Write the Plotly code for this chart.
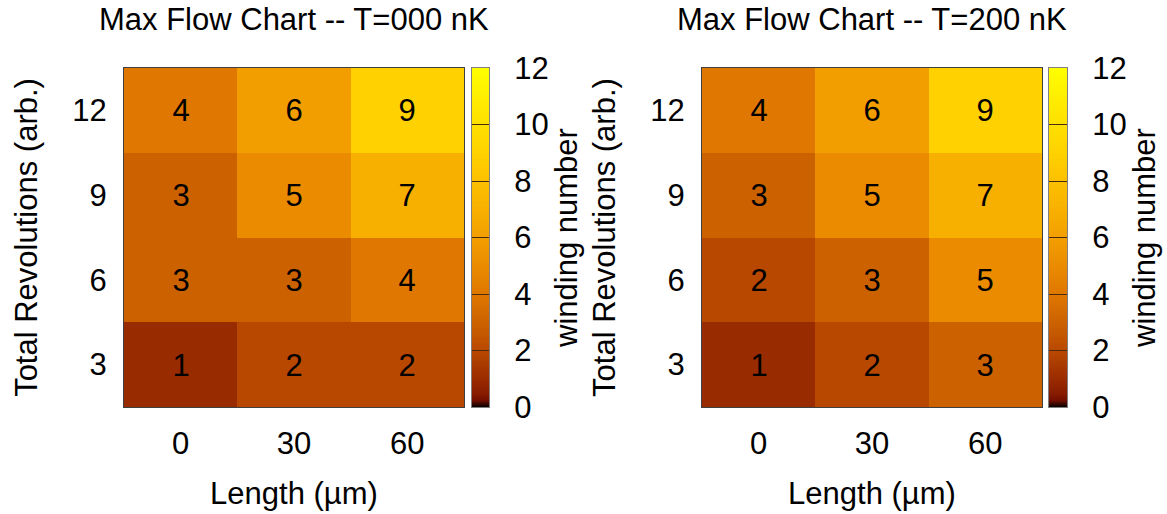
import plotly.graph_objects as go

# ---- data -------------------------------------------------------------
lengths = [0, 30, 60]                  # Length (um), columns
revolutions = [3, 6, 9, 12]            # Total Revolutions (arb.), rows
winding_T000 = [[1, 2, 2],
                [3, 3, 4],
                [3, 5, 7],
                [4, 6, 9]]
winding_T200 = [[1, 2, 3],
                [2, 3, 5],
                [3, 5, 7],
                [4, 6, 9]]
cbar_ticks = [0, 2, 4, 6, 8, 10, 12]
titles = ["Max Flow Chart -- T=000 nK", "Max Flow Chart -- T=200 nK"]

# ---- style ------------------------------------------------------------
FONT = "Liberation Sans"
FS = 31
ZMIN, ZMAX = 0, 12
# black -> dark red -> orange -> yellow palette
palette = [
    (0.0, "#000000"), (0.25, "#730f00"), (0.5, "#881c00"), (1, "#992b00"),
    (2, "#b84800"), (3, "#cc6100"), (4, "#df7700"), (5, "#ea8b00"),
    (6, "#f29e00"), (7, "#f8b000"), (8, "#fcc000"), (9, "#ffd100"),
    (10, "#ffdf00"), (11, "#ffee00"), (12, "#ffff00"),
]
colorscale = [[v / ZMAX, c] for v, c in palette]

W, H = 1167, 514
def px_x(p):
    return p / W
def px_y(p):
    return 1 - p / H

y_dom = [px_y(407), px_y(68)]
panels = [
    dict(z=winding_T000, title=titles[0], hm=[124, 464], cb=[472, 489]),
    dict(z=winding_T200, title=titles[1], hm=[702, 1042], cb=[1049, 1067]),
]

fig = go.Figure()
layout = dict(
    width=W, height=H, margin=dict(l=0, r=0, t=0, b=0, autoexpand=False),
    paper_bgcolor="white", plot_bgcolor="white", showlegend=False,
    font=dict(family=FONT, size=FS, color="black"),
    annotations=[],
)
common = dict(showgrid=False, zeroline=False, fixedrange=True, automargin=False,
              tickfont=dict(family=FONT, size=FS, color="black"))

for i, p in enumerate(panels):
    hx, hy = f"x{2*i+1}", f"y{2*i+1}"
    cx, cy = f"x{2*i+2}", f"y{2*i+2}"
    hxa, hya = f"xaxis{2*i+1}", f"yaxis{2*i+1}"
    cxa, cya = f"xaxis{2*i+2}", f"yaxis{2*i+2}"

    # main heatmap with value labels
    fig.add_trace(go.Heatmap(
        x=lengths, y=revolutions, z=p["z"], xaxis=hx, yaxis=hy,
        zmin=ZMIN, zmax=ZMAX, colorscale=colorscale, showscale=False,
        texttemplate="%{z}", textfont=dict(family=FONT, size=FS, color="black"),
        hoverinfo="skip",
    ))
    # colour bar drawn as a smooth one-column heatmap
    fig.add_trace(go.Heatmap(
        x=[0, 1], y=cbar_ticks, z=[[t, t] for t in cbar_ticks],
        xaxis=cx, yaxis=cy, zmin=ZMIN, zmax=ZMAX, colorscale=colorscale,
        zsmooth="best", showscale=False, hoverinfo="skip",
    ))

    layout[hxa] = dict(
        domain=[px_x(p["hm"][0]), px_x(p["hm"][1])], anchor=hy,
        range=[-15, 75], tickvals=lengths, ticks="", ticklabelstandoff=9,
        showline=True, mirror=True, linecolor="#404040", linewidth=1,
        title=dict(text="Length (\u00b5m)", standoff=22,
                   font=dict(family=FONT, size=FS, color="black")),
        **common,
    )
    layout[hya] = dict(
        domain=y_dom, anchor=hx,
        range=[1.5, 13.5], tickvals=revolutions, ticks="", ticklabelstandoff=10,
        showline=True, mirror=True, linecolor="#404040", linewidth=1,
        title=dict(text="Total Revolutions (arb.)", standoff=25,
                   font=dict(family=FONT, size=FS, color="black")),
        **common,
    )
    layout[cxa] = dict(
        domain=[px_x(p["cb"][0]), px_x(p["cb"][1])], anchor=cy,
        range=[0, 1], showticklabels=False, ticks="",
        showline=True, mirror=True, linecolor="#808080", linewidth=1,
        **common,
    )
    layout[cya] = dict(
        domain=y_dom, anchor=cx, side="right",
        range=[ZMIN, ZMAX], tickvals=cbar_ticks,
        ticks="inside", ticklen=p["cb"][1] - p["cb"][0], tickwidth=1,
        tickcolor="#4a2a10", ticklabelstandoff=18, layer="above traces",
        showline=True, mirror=True, linecolor="#808080", linewidth=1,
        title=dict(text="winding number", standoff=6,
                   font=dict(family=FONT, size=FS, color="black")),
        **common,
    )
    layout["annotations"].append(dict(
        text=p["title"], xref="paper", yref="paper",
        x=px_x(sum(p["hm"]) / 2), y=px_y(20), xanchor="center", yanchor="middle",
        showarrow=False, font=dict(family=FONT, size=FS, color="black"),
    ))

fig.update_layout(**layout)
fig.write_html("out.html", config=dict(displayModeBar=False))
